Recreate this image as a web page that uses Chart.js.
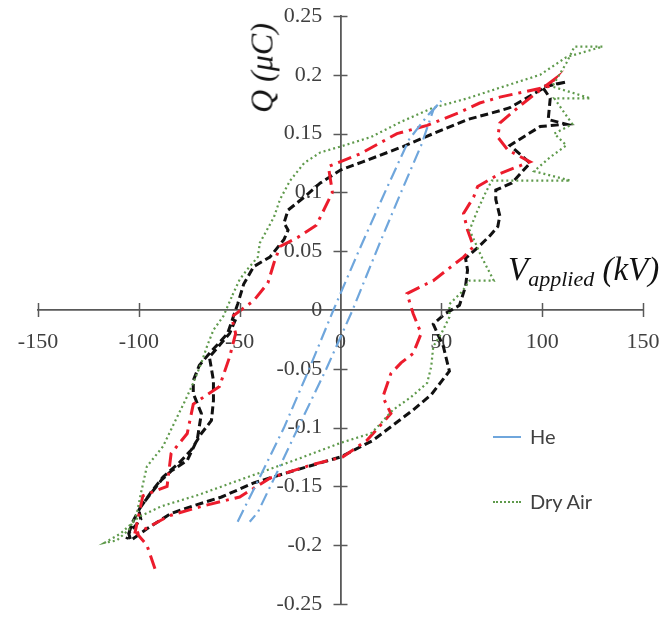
<!DOCTYPE html>
<html>
<head>
<meta charset="utf-8">
<script src="https://cdn.jsdelivr.net/npm/chart.js@4.4.1/dist/chart.umd.min.js"></script>
<style>
  html, body { margin: 0; padding: 0; background: #fff; }
  #wrap { position: relative; width: 668px; height: 620px; }
  #chart { position: absolute; left: 0; top: 0; }
  .ttl { position: absolute; font-family: "Liberation Serif", "DejaVu Serif", serif; font-style: italic; color: #111; white-space: nowrap; }
  #ytitle { left: 262px; top: 68px; font-size: 32px; transform: translate(-50%, -50%) rotate(-90deg); }
  #xtitle { left: 508px; top: 251px; font-size: 33px; }
  #xtitle sub { font-size: 22px; vertical-align: -6px; }
  .leg { position: absolute; font-family: Lato, "Open Sans", sans-serif; font-size: 20px; color: #404040; }
  .leg .sw { position: absolute; left: 0; top: 50%; width: 28px; height: 0; }
  .leg span { margin-left: 37px; }
</style>
</head>
<body>
<div id="wrap">
  <canvas id="chart" width="668" height="620"></canvas>
  <div class="ttl" id="ytitle">Q (μC)</div>
  <div class="ttl" id="xtitle">V<sub>applied</sub> (kV)</div>
  <div class="leg" style="left:493px; top:424px;"><div class="sw" style="border-top:2px solid #6fa6dc;"></div><span>He</span></div>
  <div class="leg" style="left:493px; top:489px;"><div class="sw" style="border-top:2px dotted #5f9a4c;"></div><span>Dry Air</span></div>
</div>
<script>
// Valeurs (V en kV, Q en µC)
const heV = [-51, -40, -28, -16, -3.5, 9, 22, 34, 43, 50, 46, 40, 30, 19, 6, -7, -21, -32, -41, -45];
const heQ = [-0.18, -0.142, -0.1, -0.052, 0, 0.05, 0.1, 0.145, 0.165, 0.178, 0.17, 0.14, 0.1, 0.055, 0, -0.05, -0.1, -0.14, -0.172, -0.18];

const airV = [-54, -58, -63, -66, -69, -73, -77, -81, -88, -96, -99, -101, -105, -111, -117, -109, -100, -89, -70, -54, -41, -20, 0, 15, 18, 26, 35, 43, 45, 46, 50, 54, 54, 60, 64, 76, 70, 64, 68, 72, 75, 114, 96, 104, 112, 106, 115, 106, 124, 105, 112, 116, 130, 112, 99, 79, 63, 46, 30, 15, 0, -10, -18, -25, -30, -33, -40, -41, -46, -50, -54];
const airQ = [0.011, -0.005, -0.017, -0.03, -0.045, -0.062, -0.077, -0.091, -0.116, -0.133, -0.156, -0.173, -0.187, -0.196, -0.198, -0.19, -0.176, -0.167, -0.157, -0.147, -0.139, -0.126, -0.113, -0.105, -0.1, -0.085, -0.074, -0.062, -0.048, -0.031, -0.02, -0.006, 0.005, 0.015, 0.025, 0.025, 0.045, 0.068, 0.085, 0.1, 0.11, 0.11, 0.118, 0.13, 0.14, 0.15, 0.158, 0.18, 0.18, 0.19, 0.21, 0.224, 0.224, 0.215, 0.2, 0.189, 0.18, 0.172, 0.16, 0.147, 0.139, 0.134, 0.125, 0.11, 0.094, 0.079, 0.057, 0.045, 0.035, 0.026, 0.011];

const redV = [-92, -96, -101, -85, -69, -50, -35, -15, 1, 13, 25, 21, 25, 30, 36, 40, 36, 33, 46, 61, 66, 63, 61, 66, 68, 79, 94, 83, 78, 79, 90, 99, 106, 103, 79, 69, 59, 43, 28, 10, -6, -4, -12, -21, -30, -33, -36, -43, -54, -52, -55, -60, -73, -76, -84, -86, -98, -102];
const redQ = [-0.22, -0.2, -0.19, -0.175, -0.167, -0.159, -0.143, -0.132, -0.125, -0.111, -0.088, -0.074, -0.054, -0.045, -0.037, -0.02, -0.003, 0.014, 0.025, 0.045, 0.054, 0.068, 0.082, 0.096, 0.105, 0.116, 0.126, 0.136, 0.147, 0.159, 0.175, 0.187, 0.196, 0.19, 0.181, 0.176, 0.168, 0.157, 0.15, 0.133, 0.122, 0.1, 0.072, 0.062, 0.054, 0.04, 0.023, 0.008, -0.006, -0.02, -0.04, -0.065, -0.08, -0.105, -0.122, -0.15, -0.158, -0.19];

const blackV = [-52, -55, -60, -65, -63, -63, -64, -69, -74, -80, -88, -94, -100, -99, -105, -104, -96, -84, -72, -59, -43, -22, 0, 16, 26, 36, 45, 54, 51, 46, 52, 59, 62, 63, 62, 68, 74, 78, 79, 77, 77, 85, 94, 84, 99, 112, 103, 104, 100, 112, 102, 84, 76, 63, 46, 31, 11, 0, -10, -18, -26, -28, -26, -28, -35, -43, -48, -51, -56, -64, -70, -73, -73, -69, -71, -76, -84, -89, -94, -99, -103, -106];
const blackQ = [-0.008, -0.02, -0.03, -0.04, -0.06, -0.077, -0.094, -0.105, -0.119, -0.13, -0.142, -0.155, -0.17, -0.178, -0.19, -0.196, -0.186, -0.173, -0.166, -0.159, -0.147, -0.136, -0.125, -0.111, -0.098, -0.085, -0.072, -0.052, -0.031, -0.012, -0.003, 0.004, 0.02, 0.034, 0.044, 0.053, 0.063, 0.071, 0.08, 0.094, 0.102, 0.108, 0.125, 0.14, 0.156, 0.158, 0.162, 0.18, 0.19, 0.194, 0.19, 0.172, 0.168, 0.162, 0.15, 0.139, 0.126, 0.119, 0.108, 0.096, 0.085, 0.074, 0.068, 0.06, 0.045, 0.037, 0.022, 0.005, -0.02, -0.035, -0.047, -0.06, -0.071, -0.088, -0.11, -0.128, -0.137, -0.145, -0.156, -0.167, -0.18, -0.195];

const xMin = -150, xMax = 150, xStep = 50;
const yMin = -0.25, yMax = 0.25, yStep = 0.05;
// où poser les colonnes d'étiquettes (en unités des axes), à côté des axes centrés
const yLabelAt = -9;
const xLabelAt = -0.016;

const axisColor = '#595959';

function pts(vs, qs) {
    return vs.map((v, i) => ({ x: v, y: qs[i] }));
}

// ticks qui traversent les axes
const crossTicks = {
    id: 'crossTicks',
    afterDatasetsDraw(chart) {
        const { ctx, scales: { x, y } } = chart;
        const x0 = x.getPixelForValue(0);
        const y0 = y.getPixelForValue(0);
        ctx.save();
        ctx.strokeStyle = axisColor;
        ctx.lineWidth = 1.5;
        x.ticks.forEach(t => {
            if (Math.abs(t.value) < 1e-9) return;
            const px = Math.round(x.getPixelForValue(t.value)) + 0.5;
            ctx.beginPath(); ctx.moveTo(px, y0 - 7); ctx.lineTo(px, y0 + 7); ctx.stroke();
        });
        y.ticks.forEach(t => {
            if (Math.abs(t.value) < 1e-9) return;
            const py = Math.round(y.getPixelForValue(t.value)) + 0.5;
            ctx.beginPath(); ctx.moveTo(x0 - 7, py); ctx.lineTo(x0 + 7, py); ctx.stroke();
        });
        ctx.restore();
    }
};

const tickFont = { family: '"Liberation Serif", "DejaVu Serif", serif', size: 22 };
const bareGrid = { display: false, drawTicks: false };

new Chart(document.getElementById('chart'), {
    type: 'scatter',
    data: {
        datasets: [
            { label: 'He', data: pts(heV, heQ), borderColor: '#6fa6dc', borderWidth: 2.2, borderDash: [13, 5, 2, 5] },
            { label: 'Dry Air', data: pts(airV, airQ), borderColor: '#5f9a4c', borderWidth: 2.2, borderDash: [2, 3] },
            { label: 'red', data: pts(redV, redQ), borderColor: '#ec1c2c', borderWidth: 3, borderDash: [14, 6, 3, 6] },
            { label: 'black', data: pts(blackV, blackQ), borderColor: '#111111', borderWidth: 3, borderDash: [8, 4] }
        ].map(d => Object.assign(d, { showLine: true, pointRadius: 0, fill: false, tension: 0 }))
    },
    options: {
        responsive: false,
        animation: false,
        layout: { padding: { left: 38, right: 25, top: 16, bottom: 16 } },
        plugins: { legend: { display: false }, tooltip: { enabled: false } },
        scales: {
            x: {
                type: 'linear', position: { y: 0 }, min: xMin, max: xMax,
                ticks: { stepSize: xStep, display: false },
                grid: { drawOnChartArea: false, drawTicks: false },
                border: { color: axisColor, width: 1.8 }
            },
            y: {
                type: 'linear', position: { x: 0 }, min: yMin, max: yMax,
                ticks: { stepSize: yStep, display: false },
                grid: { drawOnChartArea: false, drawTicks: false },
                border: { color: axisColor, width: 1.8 }
            },
            xLabels: {
                type: 'linear', axis: 'x', position: { y: xLabelAt }, min: xMin, max: xMax,
                ticks: { stepSize: xStep, font: tickFont, color: '#404040', padding: 0, maxRotation: 0 },
                grid: bareGrid,
                border: { display: false }
            },
            yLabels: {
                type: 'linear', axis: 'y', position: { x: yLabelAt }, min: yMin, max: yMax,
                ticks: { stepSize: yStep, font: tickFont, color: '#404040', padding: 0,
                    callback: v => String(+v.toFixed(2)) },
                grid: bareGrid,
                border: { display: false }
            }
        }
    },
    plugins: [crossTicks]
});
</script>
</body>
</html>
